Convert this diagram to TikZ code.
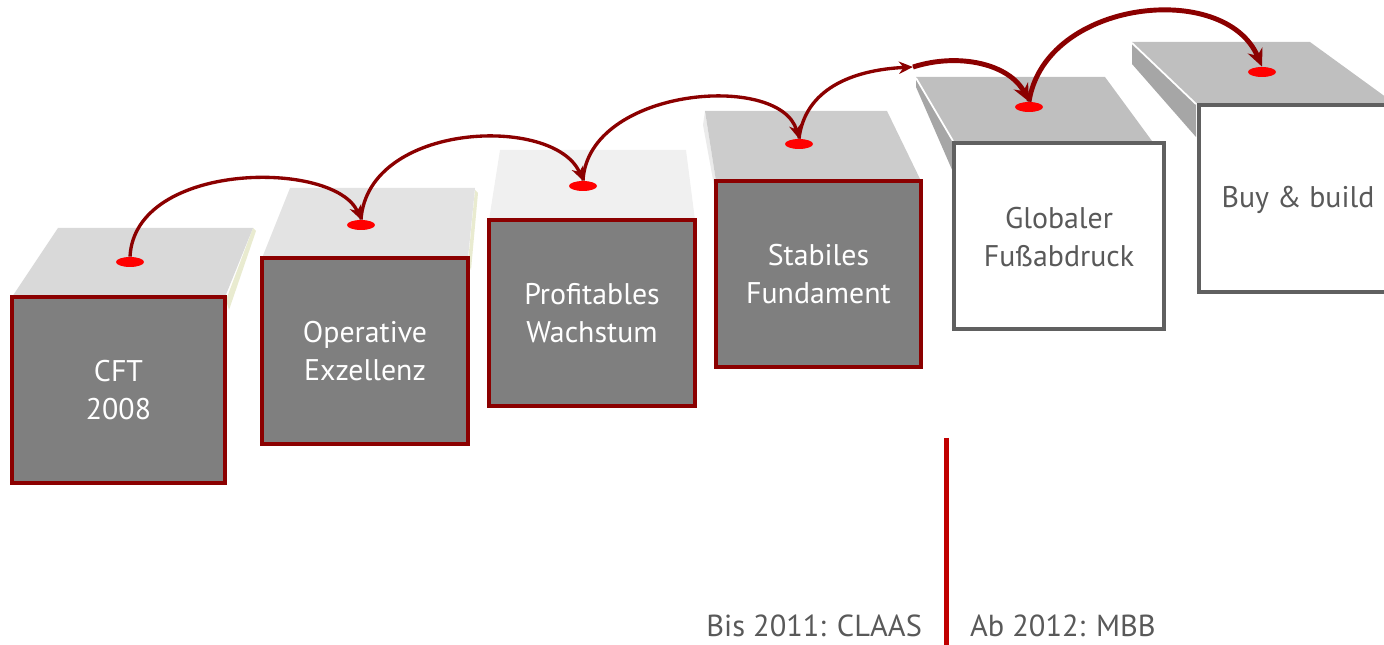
\documentclass[tikz,border=0pt]{standalone}
\usepackage{fontspec}
\setmainfont{PT Sans}
\usetikzlibrary{arrows.meta,shapes.geometric}

\definecolor{darkred}{RGB}{139,0,0}
\definecolor{linered}{RGB}{192,0,0}
\definecolor{boxgray}{RGB}{127,127,127}
\definecolor{txtgray}{RGB}{89,89,89}
\definecolor{edgegray}{RGB}{96,96,96}
\definecolor{sliver}{RGB}{233,235,208}

\tikzset{
  spot/.style={ellipse, fill=red, minimum width=0.56cm, minimum height=0.2cm, inner sep=0pt},
  hop/.style={draw=darkred, line width=1.9pt, -{Stealth[length=8pt,width=7pt]}},
  bighop/.style={hop, line width=2.8pt, -{Stealth[length=10pt,width=9pt]}},
  boxtext/.style={align=center, font=\fontsize{17}{21.6}\selectfont},
  yeartext/.style={text=txtgray, inner sep=1pt, font=\fontsize{17.3}{20}\selectfont}
}

\begin{document}
\begin{tikzpicture}[x=0.02cm, y=-0.02cm]
        \useasboundingbox (0,0) rectangle (1384,645);
        \clip (0,0) rectangle (1384,645);

        % side slivers
        \fill[sliver] (253,228) -- (256,231) -- (229,310) -- (226,300) -- cycle;
        \fill[sliver] (475,190) -- (478,193) -- (471,270) -- (468,262) -- cycle;
        \fill[black!8] (705,111) -- (716,181) -- (716,196) -- (703,125) -- cycle;

        % red steps
        \foreach \n/\xl/\xr/\yt/\bl/\br/\yb/\shade/\txt in {
            1/12/225/297/58/253/228/black!15/{CFT\\2008},
            2/262/468/258/290/475/188/black!11/{Operative\\Exzellenz},
            3/489/695/220/500/686/150/black!6/{Profitables\\Wachstum},
            4/716/921/181/705/887/111/black!20/{Stabiles\\Fundament}} {
            \fill[\shade] (\xl,\yt) -- (\xr,\yt) -- (\br,\yb) -- (\bl,\yb) -- cycle;
            \draw[darkred, line width=2pt, fill=boxgray] (\xl,\yt) rectangle (\xr,\yt+186);
            \node[boxtext, text=white] (b\n) at ({(\xl+\xr)/2},{\yt+93}) {\txt};
        }

        % grey steps
        \fill[black!35] (916,77) -- (953,140) -- (953,172) -- (916,87) -- cycle;
        \fill[black!25] (916,77) -- (1105,77) -- (1152,141) -- (953,141) -- cycle;
        \draw[white, line width=1pt] (916,78) -- (953,141);
        \draw[edgegray, line width=2pt, fill=white] (954,143) rectangle (1164,329);
        \node[boxtext, text=txtgray] (b5) at (1059,237) {Globaler\\Fußabdruck};

        \fill[black!35] (1132,42) -- (1196,103) -- (1196,137) -- (1132,64) -- cycle;
        \fill[black!25] (1132,42) -- (1310,42) -- (1394,103) -- (1196,103) -- cycle;
        \draw[white, line width=1pt] (1132,43) -- (1196,104);
        \draw[edgegray, line width=2pt, fill=white] (1199,105) rectangle (1410,292);
        \node[boxtext, text=txtgray] (b6) at (1298,200) {Buy \& build};

        % dots
        \foreach \n/\x/\y in {1/130/262, 2/361/225, 3/583/186, 4/799/144, 5/1029/107, 6/1262/72} {
            \node[spot] (d\n) at (\x,\y) {};
        }
        \coordinate (gap) at (913,67);

        % jumps
        \draw[hop] (d1.north) .. controls +(5,-96) and +(-26,-60) .. (d2.north);
        \draw[hop] (d2.north) .. controls +(7,-98) and +(-28,-66) .. (d3.north);
        \draw[hop] (d3.north) .. controls +(5,-93) and +(-19,-67) .. (d4.north);
        \draw[hop] (d4.north) .. controls +(6,-49) and +(-62,3) .. (gap);
        \draw[bighop] (gap) .. controls +(47,-15) and +(-19,-37) .. (d5.north);
        \draw[bighop] (d5.north) .. controls +(16,-102) and +(-37,-87) .. (d6.north);

        % divider
        \draw[linered, line width=2.85pt] (946,438) -- (946,645);
        \node[yeartext, anchor=base east] (claas) at (924,636) {Bis 2011: CLAAS};
        \node[yeartext, anchor=base west] (mbb) at (968,636) {Ab 2012: MBB};
    \end{tikzpicture}
\end{document}
